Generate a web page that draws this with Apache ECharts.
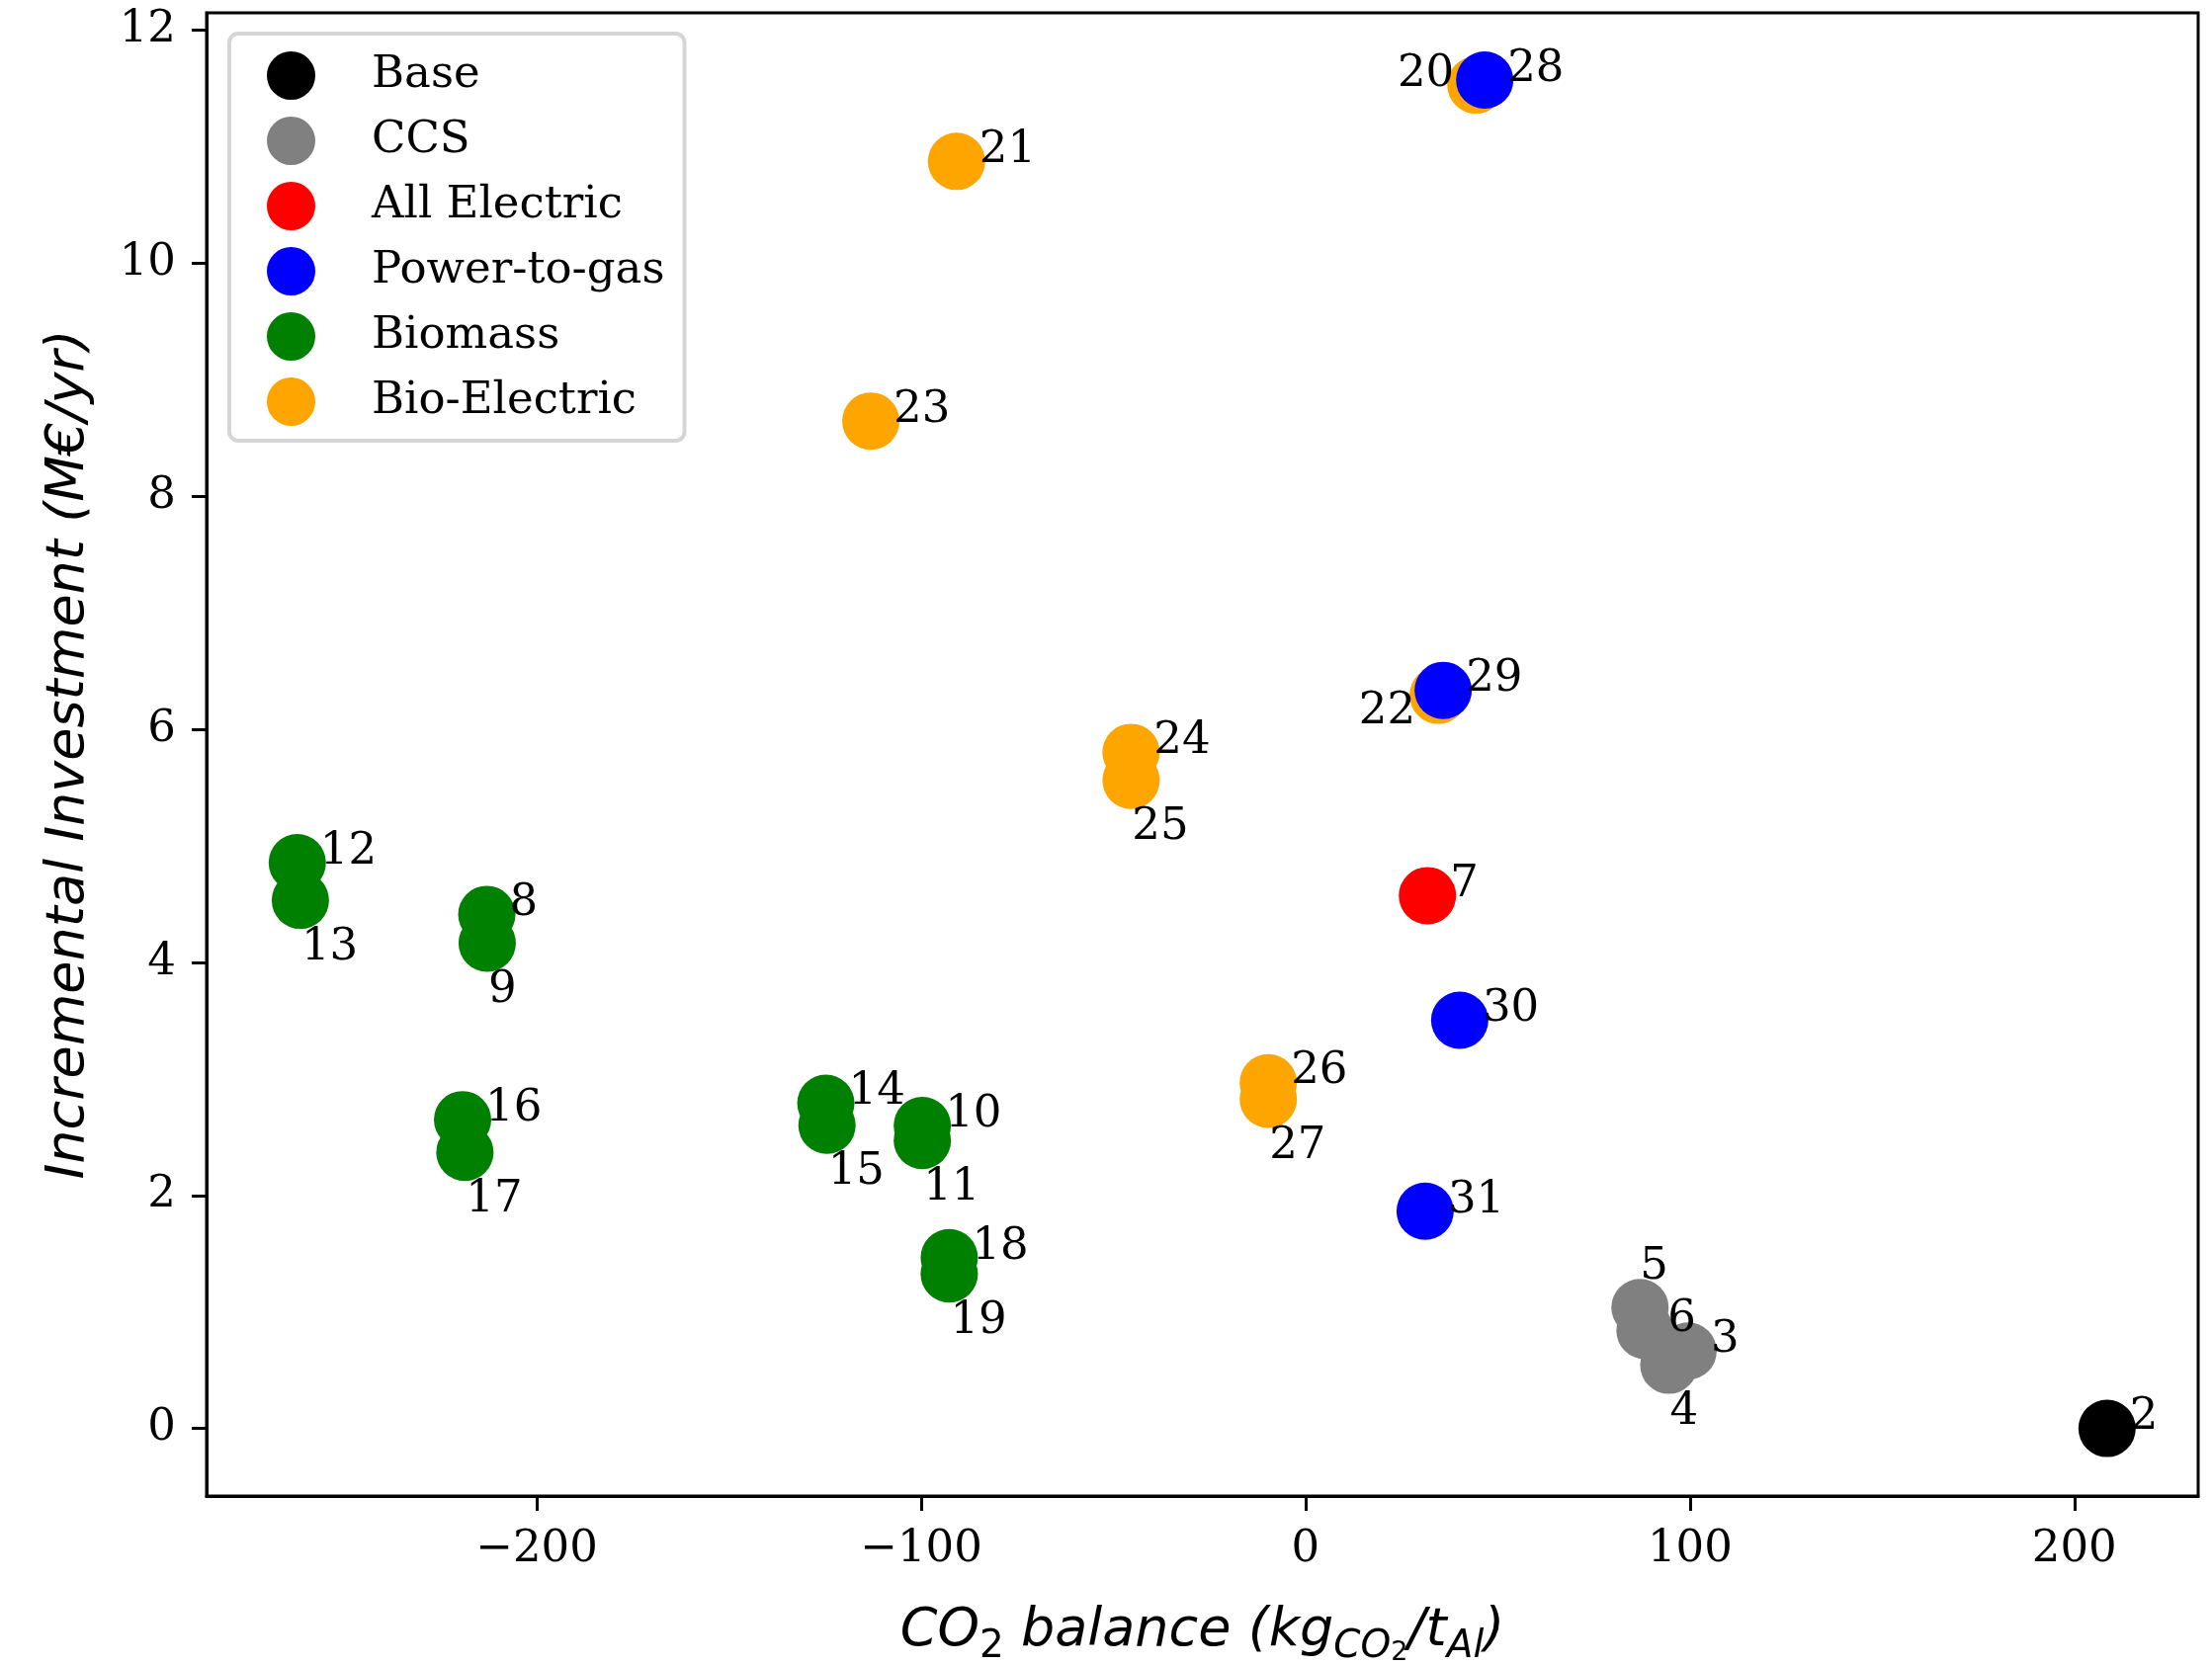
<!DOCTYPE html>
<html>
<head>
<meta charset="utf-8">
<script src="https://cdn.jsdelivr.net/npm/echarts@6.0.0/dist/echarts.min.js"></script>
<style>
  html, body { margin: 0; padding: 0; background: #fff; }
  #chart { width: 2238px; height: 1685px; }
</style>
</head>
<body>
<div id="chart"></div>
<script>
// case groups: CO2 balance (x) and incremental investment (y), with case numbers
const baseX = [208.5];
const baseY = [0.0];
const baseId = ['2'];

const ccsX = [99.5, 94.5, 87.0, 88.3];
const ccsY = [0.664, 0.543, 1.038, 0.840];
const ccsId = ['3', '4', '5', '6'];

const elecX = [31.7];
const elecY = [4.573];
const elecId = ['7'];

const bioX = [-213.0, -212.9, -99.7, -99.7, -262.3, -261.5, -124.8, -124.5, -219.3, -218.7, -92.7, -92.7];
const bioY = [4.412, 4.166, 2.600, 2.472, 4.856, 4.533, 2.791, 2.602, 2.650, 2.370, 1.465, 1.326];
const bioId = ['8', '9', '10', '11', '12', '13', '14', '15', '16', '17', '18', '19'];

const bioElecX = [44.3, -90.8, 34.5, -113.1, -45.4, -45.4, -9.7, -9.7];
const bioElecY = [11.53, 10.875, 6.293, 8.646, 5.803, 5.563, 2.967, 2.825];
const bioElecId = ['20', '21', '22', '23', '24', '25', '26', '27'];

const p2gX = [46.6, 35.8, 40.1, 31.1];
const p2gY = [11.573, 6.335, 3.504, 1.864];
const p2gId = ['28', '29', '30', '31'];

const xTicks = [-200, -100, 0, 100, 200];
const yTicks = [0, 2, 4, 6, 8, 10, 12];
const legendOrder = ['Base', 'CCS', 'All Electric', 'Power-to-gas', 'Biomass', 'Bio-Electric'];

// where each case number sits around its dot
const belowIds = ['4', '9', '11', '13', '15', '17', '19', '25', '27'];
const aboveIds = ['5'];
const leftIds = { '20': [-22, -11], '22': [-23, 17] };

const serif = 'DejaVu Serif';

function labelFor(id) {
    if (leftIds[id]) return { align: 'right', offset: leftIds[id] };
    if (belowIds.indexOf(id) >= 0) return { align: 'left', offset: [1, 48] };
    if (aboveIds.indexOf(id) >= 0) return { align: 'left', offset: [0, -41] };
    return { align: 'left', offset: [23, -11] };
}

function makeSeries(name, color, xs, ys, ids) {
    return {
        name: name,
        type: 'scatter',
        symbol: 'circle',
        symbolSize: 58,
        itemStyle: { color: color, opacity: 1 },
        data: xs.map((x, i) => {
            const l = labelFor(ids[i]);
            return {
                value: [x, ys[i]],
                name: ids[i],
                label: {
                    show: true,
                    position: 'inside',
                    formatter: ids[i],
                    align: l.align,
                    verticalAlign: 'middle',
                    offset: l.offset,
                    color: '#000',
                    fontFamily: serif,
                    fontSize: 45
                }
            };
        })
    };
}

const chart = echarts.init(document.getElementById('chart'), null, { renderer: 'canvas' });

chart.setOption({
    animation: false,
    backgroundColor: '#fff',
    grid: {
        left: 209,
        top: 13,
        right: 14,
        bottom: 171,
        containLabel: false,
        outerBoundsMode: 'none',
        show: true,
        borderColor: '#000',
        borderWidth: 3,
        backgroundColor: 'transparent'
    },
    legend: {
        data: legendOrder,
        orient: 'vertical',
        left: 232,
        top: 34,
        padding: [18, 20, 15, 38],
        itemGap: 17,
        itemWidth: 49,
        itemHeight: 49,
        icon: 'circle',
        backgroundColor: '#fff',
        borderColor: '#d5d5d5',
        borderWidth: 4,
        borderRadius: 9,
        textStyle: {
            fontFamily: serif,
            fontSize: 45,
            color: '#000',
            lineHeight: 49,
            padding: [0, 0, 0, 52]
        }
    },
    xAxis: {
        type: 'value',
        min: -285.9,
        max: 232.2,
        name: '{i|CO}{d|2}{i| balance (kg}{s|CO}{ss|2}{i|/t}{s|Al}{i|)}',
        nameLocation: 'middle',
        nameGap: 102,
        nameTextStyle: {
            rich: {
                i: { fontFamily: 'DejaVu Sans', fontStyle: 'italic', fontSize: 54, lineHeight: 70, color: '#000' },
                d: { fontFamily: 'DejaVu Sans', fontSize: 39, lineHeight: 39, verticalAlign: 'bottom', color: '#000' },
                s: { fontFamily: 'DejaVu Sans', fontStyle: 'italic', fontSize: 39, lineHeight: 39, verticalAlign: 'bottom', color: '#000' },
                ss: { fontFamily: 'DejaVu Sans', fontSize: 27, lineHeight: 15, verticalAlign: 'bottom', color: '#000' }
            }
        },
        splitLine: { show: false },
        axisLine: { show: true, onZero: false, lineStyle: { color: '#000', width: 3 } },
        axisTick: { show: true, customValues: xTicks, length: 15, lineStyle: { color: '#000', width: 3 } },
        axisLabel: {
            customValues: xTicks,
            margin: 32,
            fontFamily: serif,
            fontSize: 45,
            lineHeight: 45,
            color: '#000',
            formatter: v => (v < 0 ? '\u2212' + Math.abs(v) : String(v))
        }
    },
    yAxis: {
        type: 'value',
        min: -0.58,
        max: 12.15,
        name: 'Incremental Investment (M\u20ac/yr)',
        nameLocation: 'middle',
        nameGap: 112,
        nameRotate: 90,
        nameTextStyle: {
            fontFamily: 'DejaVu Sans',
            fontStyle: 'italic',
            fontSize: 54,
            lineHeight: 54,
            color: '#000'
        },
        splitLine: { show: false },
        axisLine: { show: true, onZero: false, lineStyle: { color: '#000', width: 3 } },
        axisTick: { show: true, customValues: yTicks, length: 15, lineStyle: { color: '#000', width: 3 } },
        axisLabel: {
            customValues: yTicks,
            margin: 31,
            padding: [8, 0, 0, 0],
            fontFamily: serif,
            fontSize: 45,
            color: '#000'
        }
    },
    series: [
        makeSeries('Base', '#000000', baseX, baseY, baseId),
        makeSeries('CCS', '#808080', ccsX, ccsY, ccsId),
        makeSeries('All Electric', '#ff0000', elecX, elecY, elecId),
        makeSeries('Biomass', '#008000', bioX, bioY, bioId),
        makeSeries('Bio-Electric', '#ffa500', bioElecX, bioElecY, bioElecId),
        makeSeries('Power-to-gas', '#0000ff', p2gX, p2gY, p2gId)
    ]
});
</script>
</body>
</html>
